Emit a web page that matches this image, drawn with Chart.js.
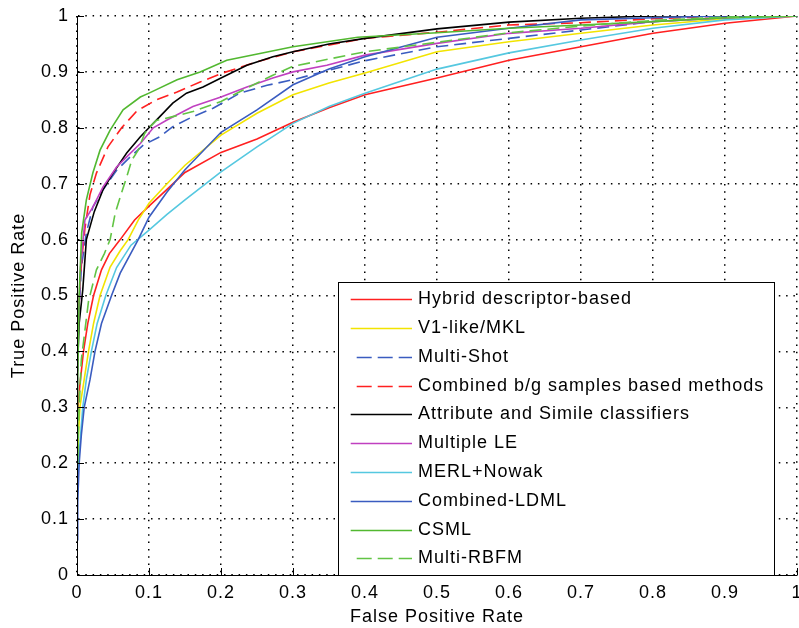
<!DOCTYPE html>
<html><head><meta charset="utf-8">
<script src="https://cdn.jsdelivr.net/npm/chart.js@4"></script>
<style>html,body{margin:0;padding:0;background:#fff;overflow:hidden}</style>
</head><body>
<canvas id="c" width="799" height="628"></canvas>
<script>
// ---- data ----
const seriesNames = ['Hybrid descriptor-based','V1-like/MKL','Multi-Shot','Combined b/g samples based methods','Attribute and Simile classifiers','Multiple LE','MERL+Nowak','Combined-LDML','CSML','Multi-RBFM'];
const xTickValues = [0,0.1,0.2,0.3,0.4,0.5,0.6,0.7,0.8,0.9,1];
const yTickValues = [0,0.1,0.2,0.3,0.4,0.5,0.6,0.7,0.8,0.9,1];

const hybridFPR = [0,0.004,0.009,0.015,0.023,0.034,0.045,0.06,0.08,0.1,0.125,0.15,0.2,0.25,0.3,0.35,0.4,0.5,0.6,0.7,0.8,0.9,1];
const hybridTPR = [0.28,0.34,0.40,0.45,0.50,0.546,0.575,0.60,0.635,0.66,0.69,0.72,0.756,0.78,0.81,0.836,0.859,0.889,0.921,0.945,0.969,0.987,1];

const v1FPR = [0,0.002,0.004,0.01,0.016,0.023,0.032,0.046,0.06,0.071,0.085,0.1,0.125,0.15,0.2,0.25,0.3,0.35,0.4,0.5,0.6,0.7,0.8,0.9,1];
const v1TPR = [0.18,0.25,0.3,0.35,0.4,0.45,0.5,0.551,0.58,0.6,0.635,0.665,0.7,0.733,0.787,0.826,0.859,0.88,0.898,0.936,0.954,0.969,0.984,0.995,1];

const multiShotFPR = [0,0.002,0.006,0.013,0.022,0.036,0.055,0.074,0.092,0.115,0.133,0.161,0.189,0.226,0.264,0.3,0.347,0.4,0.5,0.6,0.7,0.8,0.9,1];
const multiShotTPR = [0.3,0.45,0.55,0.612,0.658,0.689,0.724,0.748,0.769,0.784,0.802,0.82,0.835,0.862,0.876,0.886,0.902,0.92,0.945,0.96,0.975,0.99,0.997,1];

const combinedBgFPR = [0,0.002,0.004,0.007,0.011,0.018,0.027,0.043,0.062,0.083,0.11,0.139,0.171,0.2,0.25,0.3,0.4,0.5,0.6,0.7,0.8,0.9,1];
const combinedBgTPR = [0.35,0.45,0.52,0.57,0.62,0.68,0.719,0.766,0.8,0.83,0.85,0.864,0.882,0.897,0.918,0.936,0.96,0.971,0.984,0.988,0.995,1,1];

const attributeFPR = [0,0.003,0.008,0.013,0.024,0.036,0.05,0.069,0.088,0.1,0.115,0.133,0.152,0.175,0.2,0.236,0.272,0.3,0.35,0.4,0.5,0.6,0.7,0.8,1];
const attributeTPR = [0.35,0.45,0.51,0.6,0.65,0.689,0.719,0.755,0.784,0.8,0.82,0.844,0.862,0.873,0.889,0.912,0.927,0.936,0.95,0.96,0.977,0.989,0.996,1,1];

const multipleLeFPR = [0,0.002,0.005,0.011,0.022,0.036,0.055,0.069,0.088,0.106,0.125,0.161,0.2,0.236,0.272,0.3,0.347,0.4,0.5,0.6,0.7,0.8,0.9,1];
const multipleLeTPR = [0.3,0.45,0.55,0.635,0.658,0.694,0.73,0.748,0.772,0.8,0.814,0.838,0.855,0.873,0.889,0.9,0.912,0.93,0.951,0.969,0.978,0.99,0.997,1];

const merlFPR = [0,0.002,0.005,0.008,0.013,0.02,0.028,0.04,0.055,0.075,0.1,0.125,0.15,0.2,0.25,0.3,0.35,0.4,0.5,0.6,0.7,0.8,0.9,1];
const merlTPR = [0.12,0.2,0.25,0.3,0.35,0.4,0.45,0.5,0.55,0.59,0.617,0.645,0.671,0.721,0.766,0.808,0.838,0.862,0.905,0.934,0.957,0.978,0.993,1];

const ldmlFPR = [0,0.001,0.003,0.006,0.01,0.018,0.025,0.034,0.048,0.06,0.085,0.1,0.125,0.15,0.2,0.25,0.3,0.35,0.4,0.5,0.6,0.7,0.8,0.9,1];
const ldmlTPR = [0.063,0.13,0.2,0.25,0.3,0.349,0.4,0.45,0.5,0.54,0.6,0.64,0.685,0.725,0.792,0.832,0.877,0.905,0.927,0.962,0.978,0.993,0.997,1,1];

const csmlFPR = [0,0.001,0.003,0.0065,0.013,0.022,0.032,0.046,0.064,0.088,0.1,0.139,0.171,0.208,0.254,0.3,0.39,0.5,0.6,0.7,0.8,0.9,1];
const csmlTPR = [0.2,0.35,0.5,0.612,0.671,0.719,0.76,0.796,0.832,0.855,0.862,0.886,0.9,0.921,0.933,0.945,0.962,0.97,0.978,0.984,0.99,0.997,1];

const rbfmFPR = [0,0.003,0.006,0.016,0.027,0.038,0.046,0.053,0.06,0.069,0.076,0.085,0.094,0.1,0.11,0.133,0.161,0.2,0.236,0.272,0.3,0.4,0.5,0.6,0.7,0.8,0.9,1];
const rbfmTPR = [0.18,0.3,0.385,0.49,0.546,0.575,0.6,0.647,0.676,0.712,0.742,0.76,0.79,0.8,0.813,0.82,0.829,0.847,0.871,0.894,0.91,0.936,0.953,0.97,0.982,0.992,0.998,1];

// ---- styles ----
const FONT = '"Liberation Sans", Arial, Helvetica, sans-serif';
const DASH = [12, 6];
const styles = [
  {color:'#ff2020', dash:[]},
  {color:'#f2e400', dash:[]},
  {color:'#3a5cc0', dash:DASH},
  {color:'#ff2020', dash:DASH},
  {color:'#000000', dash:[]},
  {color:'#c040c0', dash:[]},
  {color:'#55c8e0', dash:[]},
  {color:'#3a5cc0', dash:[]},
  {color:'#52b830', dash:[]},
  {color:'#62c444', dash:DASH}
];
const seriesData = [
  [hybridFPR, hybridTPR],[v1FPR, v1TPR],[multiShotFPR, multiShotTPR],[combinedBgFPR, combinedBgTPR],
  [attributeFPR, attributeTPR],[multipleLeFPR, multipleLeTPR],[merlFPR, merlTPR],[ldmlFPR, ldmlTPR],
  [csmlFPR, csmlTPR],[rbfmFPR, rbfmTPR]
];
const zip = (xs, ys) => xs.map((x, i) => ({x, y: ys[i]}));

const datasets = seriesNames.map((name, i) => ({
  label: name,
  data: zip(seriesData[i][0], seriesData[i][1]),
  borderColor: styles[i].color,
  backgroundColor: styles[i].color,
  borderDash: styles[i].dash,
  borderWidth: 1.6,
  pointRadius: 0,
  tension: 0,
  fill: false,
  order: -i
}));

const spacingPlugin = {
  id: 'spacing',
  beforeDraw(chart){ chart.ctx.letterSpacing = '1px'; }
};

const axesPlugin = {
  id: 'axesExtras',
  afterDatasetsDraw(chart){
    const {ctx, chartArea: a, scales} = chart;
    ctx.save();
    ctx.strokeStyle = '#000';
    ctx.lineWidth = 1;
    ctx.setLineDash([]);
    ctx.beginPath();
    ctx.moveTo(a.left + 0.5, a.top); ctx.lineTo(a.left + 0.5, a.bottom + 0.5);
    ctx.lineTo(a.right, a.bottom + 0.5);
    ctx.stroke();
    ctx.beginPath();
    xTickValues.forEach(v => {
      const px = Math.round(scales.x.getPixelForValue(v)) + 0.5;
      ctx.moveTo(px, a.bottom); ctx.lineTo(px, a.bottom - 7);
    });
    yTickValues.forEach(v => {
      const py = Math.round(scales.y.getPixelForValue(v)) + 0.5;
      ctx.moveTo(a.left, py); ctx.lineTo(a.left + 7, py);
    });
    ctx.stroke();

    // legend
    const L = 338, T = 282, R = 774, B = a.bottom;
    ctx.fillStyle = '#fff';
    ctx.fillRect(L, T, R - L, B - T);
    ctx.strokeStyle = '#000';
    ctx.strokeRect(L + 0.5, T + 0.5, R - L, B - T);
    ctx.font = '18px ' + FONT;
    ctx.textBaseline = 'middle';
    ctx.textAlign = 'left';
    ctx.letterSpacing = '1px';
    chart.data.datasets.forEach((ds, i) => {
      const y = Math.round(299.3 + i * 28.78) + 0.5;
      const dashed = ds.borderDash && ds.borderDash.length;
      ctx.save();
      ctx.beginPath();
      ctx.rect(L + 1, y - 3, 412 - L - 1, 6);
      ctx.clip();
      ctx.strokeStyle = ds.borderColor;
      ctx.lineWidth = 1.5;
      ctx.setLineDash(dashed ? [15, 6] : []);
      ctx.beginPath();
      ctx.moveTo(dashed ? 356.7 : 350.7, y);
      ctx.lineTo(414, y);
      ctx.stroke();
      ctx.restore();
      ctx.fillStyle = '#000';
      ctx.fillText(ds.label, 418, y);
    });
    ctx.restore();
  }
};

const fmt = v => String(+(+v).toFixed(1));

new Chart(document.getElementById('c'), {
  type: 'line',
  data: { datasets },
  options: {
    responsive: false,
    animation: false,
    layout: { padding: { top: 16, right: 2, left: 0, bottom: 0 } },
    plugins: { legend: { display: false }, tooltip: { enabled: false } },
    scales: {
      x: {
        type: 'linear', min: 0, max: 1,
        afterBuildTicks(s){ s.ticks = xTickValues.map(v => ({value: v})); },
        afterFit(s){ s.height = 53; s.paddingLeft = 0; s.paddingRight = 0; },
        ticks: { color: '#000', font: { family: FONT, size: 18 }, padding: 7, maxRotation: 0, autoSkip: false, callback: fmt },
        grid: { color: '#000', lineWidth: 1.5, drawTicks: false },
        border: { display: true, color: '#000', width: 1, dash: [1.5, 5.8] },
        title: { display: true, text: 'False Positive Rate', color: '#000', font: { family: FONT, size: 18 }, padding: { top: 0, bottom: 0 } }
      },
      y: {
        type: 'linear', min: 0, max: 1,
        afterBuildTicks(s){ s.ticks = yTickValues.map(v => ({value: v})); },
        afterFit(s){ s.width = 77; s.paddingTop = 0; s.paddingBottom = 0; },
        ticks: { color: '#000', font: { family: FONT, size: 18 }, padding: 8, autoSkip: false, callback: fmt },
        grid: { color: '#000', lineWidth: 1.5, drawTicks: false },
        border: { display: true, color: '#000', width: 1, dash: [1.5, 5.8] },
        title: { display: true, text: 'True Positive Rate', color: '#000', font: { family: FONT, size: 18 }, padding: { top: 8, bottom: 0 } }
      }
    }
  },
  plugins: [spacingPlugin, axesPlugin]
});
</script>
</body></html>
